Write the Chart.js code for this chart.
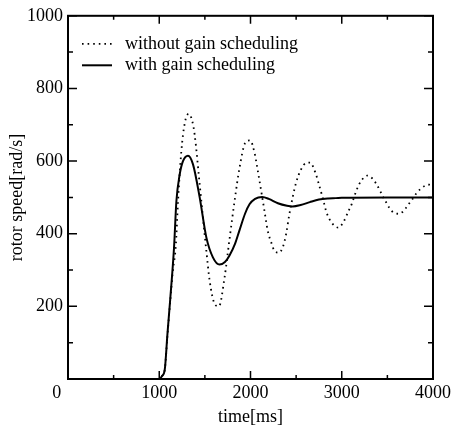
<!DOCTYPE html>
<html>
<head>
<meta charset="utf-8">
<script src="https://cdn.jsdelivr.net/npm/chart.js@4.4.1/dist/chart.umd.min.js"></script>
<style>
  html, body { margin: 0; padding: 0; background: #fff; }
  #wrap { width: 454px; height: 428px; }
</style>
</head>
<body>
<div id="wrap"><canvas id="myChart"></canvas></div>
<script>
// time [ms] / rotor speed [rad/s]
const timeWithout = [0, 1000, 1030, 1060, 1090, 1122, 1150, 1180, 1206, 1242, 1280, 1322, 1360, 1388, 1443, 1497, 1516, 1552, 1607, 1654, 1716, 1770, 1820, 1880, 1942, 1996, 2044, 2080, 2117, 2153, 2189, 2233, 2262, 2310, 2353, 2390, 2426, 2462, 2499, 2554, 2609, 2652, 2718, 2754, 2790, 2834, 2900, 2962, 3016, 3075, 3108, 3155, 3184, 3220, 3279, 3337, 3381, 3417, 3446, 3483, 3519, 3563, 3632, 3694, 3738, 3774, 3818, 3866, 3920, 3960, 4000];
const speedWithout = [0, 0, 8, 25, 120, 220, 300, 362, 490, 627, 705, 730, 712, 673, 536, 399, 353, 271, 207, 200, 280, 385, 480, 582, 650, 657, 623, 573, 518, 463, 408, 372, 353, 348, 362, 399, 454, 500, 540, 577, 595, 596, 563, 532, 500, 458, 427, 417, 431, 463, 481, 515, 533, 548, 560, 552, 536, 520, 504, 488, 472, 459, 455, 468, 483, 495, 511, 524, 533, 535, 530];

const timeWith = [0, 1000, 1030, 1060, 1090, 1122, 1162, 1188, 1224, 1260, 1315, 1370, 1443, 1516, 1588, 1661, 1720, 1770, 1830, 1880, 1940, 1989, 2050, 2128, 2200, 2300, 2400, 2462, 2550, 2650, 2750, 2850, 2936, 3000, 3500, 4000];
const speedWith = [0, 0, 8, 25, 125, 225, 362, 490, 563, 600, 615, 591, 500, 390, 335, 315, 322, 340, 372, 410, 455, 481, 496, 501, 496, 484, 477, 475, 479, 487, 494, 497, 498, 499, 500, 500];

const seriesNames = ['without gain scheduling', 'with gain scheduling'];

const toPoints = (xs, ys) => xs.map((x, i) => ({ x: x, y: ys[i] }));

const serif = { family: '"Liberation Serif", "Times New Roman", serif', size: 18 };

// inward ticks on all four sides + frame
const frameTicks = {
  id: 'frameTicks',
  afterDatasetsDraw(chart) {
    const { ctx, chartArea: a, scales: { x, y } } = chart;
    ctx.save();
    ctx.strokeStyle = '#000';
    ctx.lineWidth = 1.5;
    ctx.beginPath();
    for (let v = 0; v <= 4000; v += 500) {
      const px = x.getPixelForValue(v);
      const len = v % 1000 === 0 ? 8 : 4;
      ctx.moveTo(px, a.bottom); ctx.lineTo(px, a.bottom - len);
      ctx.moveTo(px, a.top); ctx.lineTo(px, a.top + len);
    }
    for (let v = 0; v <= 1000; v += 100) {
      const py = y.getPixelForValue(v);
      const len = v % 200 === 0 ? 9 : 5;
      ctx.moveTo(a.left, py); ctx.lineTo(a.left + len, py);
      ctx.moveTo(a.right, py); ctx.lineTo(a.right - len, py);
    }
    ctx.stroke();
    ctx.lineWidth = 2;
    ctx.strokeRect(a.left, a.top, a.right - a.left, a.bottom - a.top);
    ctx.restore();
  }
};

// legend inside the plot, top left, using each dataset's own line style
const plotLegend = {
  id: 'plotLegend',
  afterDraw(chart) {
    const { ctx, chartArea: a } = chart;
    ctx.save();
    ctx.font = '18px "Liberation Serif", "Times New Roman", serif';
    ctx.fillStyle = '#000';
    ctx.textBaseline = 'alphabetic';
    chart.data.datasets.forEach((ds, i) => {
      const yy = a.top + 28 + i * 21.5;
      ctx.strokeStyle = ds.borderColor;
      ctx.lineWidth = ds.borderWidth;
      ctx.setLineDash(ds.borderDash || []);
      ctx.beginPath();
      ctx.moveTo(a.left + 14, yy);
      ctx.lineTo(a.left + 44, yy);
      ctx.stroke();
      ctx.setLineDash([]);
      ctx.fillText(ds.label, a.left + 57, yy + 5);
    });
    ctx.restore();
  }
};

const ctx = document.getElementById('myChart').getContext('2d');
new Chart(ctx, {
  type: 'line',
  data: {
    datasets: [{
      label: seriesNames[0],
      data: toPoints(timeWithout, speedWithout),
      borderColor: '#000',
      borderWidth: 1.8,
      borderDash: [1.6, 4],
      pointRadius: 0,
      cubicInterpolationMode: 'monotone',
      fill: false
    }, {
      label: seriesNames[1],
      data: toPoints(timeWith, speedWith),
      borderColor: '#000',
      borderWidth: 2,
      pointRadius: 0,
      cubicInterpolationMode: 'monotone',
      fill: false
    }]
  },
  options: {
    responsive: true,
    maintainAspectRatio: false,
    animation: false,
    layout: { padding: { top: 14, right: 20, left: 0, bottom: 0 } },
    plugins: {
      tooltip: { enabled: false },
      legend: { display: false }
    },
    scales: {
      x: {
        type: 'linear',
        min: 0,
        max: 4000,
        grid: { display: false, drawTicks: false },
        border: { display: false },
        ticks: {
          stepSize: 1000,
          padding: 3,
          color: '#000',
          font: serif,
          maxRotation: 0,
          callback: (v) => v === 0 ? '0     ' : String(v)
        },
        title: { display: true, text: 'time[ms]', color: '#000', font: serif, padding: { top: 0, bottom: 0 } },
        afterFit: (s) => { s.height = 49; }
      },
      y: {
        type: 'linear',
        min: 0,
        max: 1000,
        grid: { display: false, drawTicks: false },
        border: { display: false },
        ticks: {
          stepSize: 200,
          padding: 5,
          color: '#000',
          font: serif,
          callback: (v) => v === 0 ? '' : String(v)
        },
        title: { display: true, text: 'rotor speed[rad/s]', color: '#000', font: serif, padding: { top: 6, bottom: 0 } },
        afterFit: (s) => { s.width = 68; }
      }
    }
  },
  plugins: [frameTicks, plotLegend]
});
</script>
</body>
</html>
